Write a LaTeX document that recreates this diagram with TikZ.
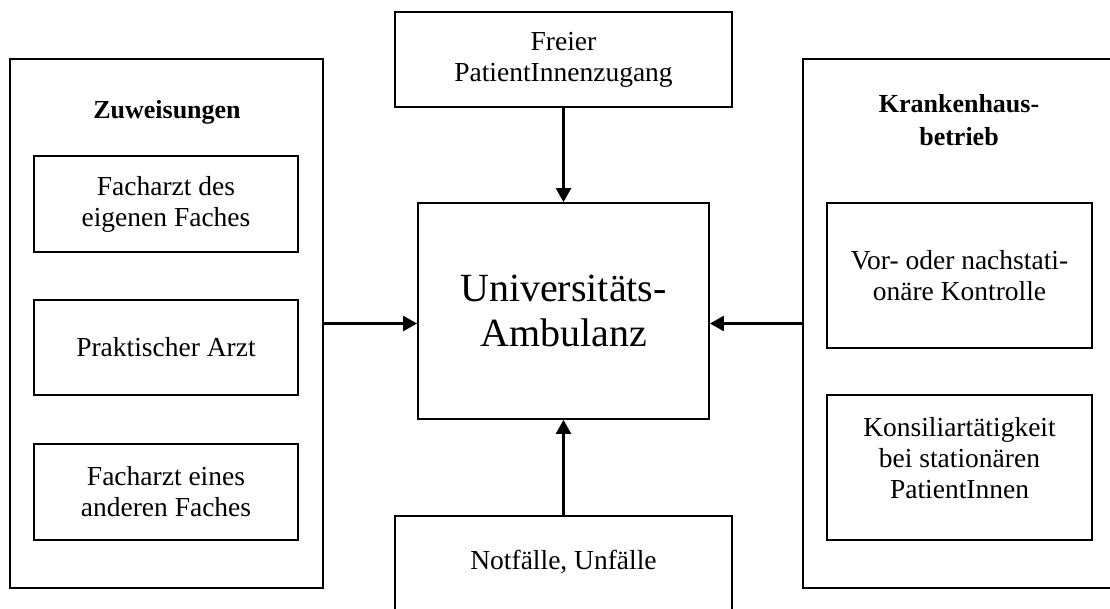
\documentclass[tikz,border=0pt]{standalone}
\usepackage{fontspec}
\setmainfont{Liberation Serif}
\usetikzlibrary{arrows.meta}
\begin{document}
\begin{tikzpicture}[x=1pt,y=-1pt,
  box/.style={draw, line width=1.8pt, inner sep=0pt, align=center, font=\fontsize{27.5}{31}\selectfont},
  lbl/.style={align=center, inner sep=0pt, font=\fontsize{27.5}{31}\selectfont},
  head/.style={align=center, inner sep=0pt, font=\fontsize{26}{33}\selectfont\bfseries},
  conn/.style={line width=2.4pt, -{Triangle[length=14pt,width=15pt]}}]
\useasboundingbox (0,0) rectangle (1110,608);
\clip (0,0) rectangle (1110,608);
% left group
\node[box, minimum width=313pt, minimum height=529pt] (zuw) at (166.5,323.5) {};
\node[head] (zuwh) at (167,112) {Zuweisungen};
\node[box, minimum width=264pt, minimum height=96pt] (fa1) at (166,204) {Facharzt des\\eigenen Faches};
\node[box, minimum width=264pt, minimum height=95pt] (pa) at (166,347.5) {Praktischer Arzt};
\node[box, minimum width=264pt, minimum height=96pt] (fa2) at (166,492) {Facharzt eines\\anderen Faches};
% centre column
\node[box, minimum width=337pt, minimum height=95pt] (frei) at (563.5,59.5) {Freier\\PatientInnenzugang};
\node[box, minimum width=291pt, minimum height=216pt, font=\fontsize{40}{45}\selectfont] (ua) at (563.5,311) {Universitäts-\\Ambulanz};
\node[box, minimum width=337pt, minimum height=120pt] (not) at (563.5,576) {};
\node[lbl] (nott) at (563.5,562) {Notfälle, Unfälle};
% right group
\node[box, minimum width=317pt, minimum height=529pt] (kh) at (961.5,323.5) {};
\node[head] (khh) at (959,120) {Krankenhaus-\\betrieb};
\node[box, minimum width=265pt, minimum height=145pt] (vor) at (959.5,275.5) {Vor- oder nachstati-\\onäre Kontrolle};
\node[box, minimum width=265pt, minimum height=145pt] (kons) at (959.5,467.5) {};
\node[lbl] (konst) at (959.5,458) {Konsiliartätigkeit\\bei stationären\\PatientInnen};
% connectors
\draw[conn] (frei.south) -- (ua.north);
\draw[conn] (not.north) -- (ua.south);
\draw[conn] (zuw.east) -- (zuw.east -| ua.west);
\draw[conn] (kh.west) -- (kh.west -| ua.east);
\end{tikzpicture}
\end{document}
